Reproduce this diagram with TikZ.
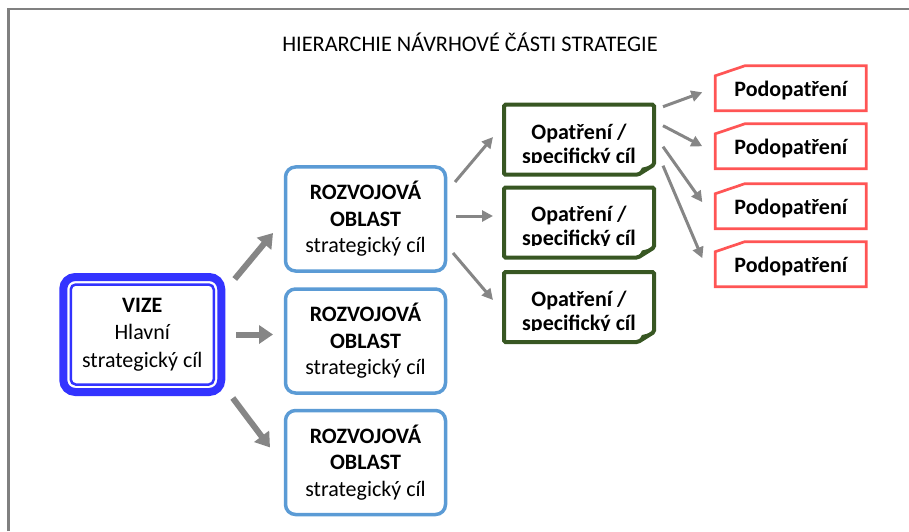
\documentclass[tikz,border=0pt]{standalone}
\usepackage{fontspec}
\setmainfont{Carlito}
\usetikzlibrary{arrows.meta}
\definecolor{ramecek}{RGB}{128,128,128}
\definecolor{sipka}{RGB}{134,134,134}
\definecolor{modra}{RGB}{51,51,255}
\definecolor{svetlemodra}{RGB}{91,155,213}
\definecolor{zelena}{RGB}{56,87,35}
\definecolor{cervena}{RGB}{255,85,85}
\tikzset{
	pismo/.style={font=\fontsize{22}{26.5}\selectfont},
	vize/.style={font=\fontsize{22}{27.5}\selectfont, draw=modra, line width=8pt, rounded corners=12pt, minimum width=158pt, minimum height=115pt, inner sep=0pt, outer sep=0pt, align=center},
	oblast/.style={pismo, draw=svetlemodra, line width=3.5pt, rounded corners=10pt, minimum width=160pt, minimum height=104pt, inner sep=0pt, outer sep=0pt, align=center},
	opatreni/.style={minimum width=150pt, minimum height=70pt, inner sep=0pt, outer sep=0pt},
	opatrenitext/.style={font=\fontsize{22}{24}\selectfont\bfseries, align=center, inner sep=0pt},
	podopatreni/.style={font=\fontsize{22}{26.5}\selectfont\bfseries, minimum width=151pt, minimum height=45pt, inner sep=0pt, outer sep=0pt, text height=18pt, text depth=1pt},
	velka/.style={sipka, line width=6pt, -{Triangle[length=14pt,width=18pt]}},
	mala/.style={sipka, line width=3pt, -{Triangle[length=11pt,width=11pt]}},
}
\begin{document}
\begin{tikzpicture}[x=1pt,y=1pt]
	\useasboundingbox (0,0) rectangle (909,531);
	\draw [ramecek, line width=2.7pt] (8.7,0) -- (8.7,522) -- (909,522);
	\node [font=\fontsize{22.3}{26.5}\selectfont, anchor=base] (nadpis) at (470,479) {HIERARCHIE NÁVRHOVÉ ČÁSTI STRATEGIE};

	\node [vize] (vize) at (142.25,196.5) {\textbf{VIZE}\\Hlavní\\strategický cíl};
	\draw [modra, line width=2.5pt, rounded corners=5pt] ([shift={(7.5,-7.5)}]vize.north west) rectangle ([shift={(-7.5,7.5)}]vize.south east);

	\foreach \i/\y in {1/312,2/190,3/68.5}
		\node [oblast] (roz\i) at (365.5,\y) {\textbf{ROZVOJOVÁ}\\\textbf{OBLAST}\\strategický cíl};

	\draw [velka] ([shift={(13.5,-2)}]vize.north east) -- ([shift={(-12.5,38)}]roz1.south west);
	\draw [velka] ([xshift=15pt]vize.east) -- ([xshift=-12.5pt]vize.east -| roz2.west);
	\draw [velka] ([shift={(11.5,-6)}]vize.south east) -- ([shift={(-15.5,-37)}]roz3.north west);

	\foreach \i/\y in {1/391.3,2/308.5,3/224}{%
		\node [opatreni] (op\i) at (579,\y) {};
		\draw [zelena, line width=4pt, rounded corners=1.5pt] (op\i.north west) -- (op\i.north east) -- ([yshift=10pt]op\i.south east) -- ([xshift=-16pt]op\i.south east) -- (op\i.south west) -- cycle;
		\fill [zelena] ([xshift=-16pt]op\i.south east) -- ([yshift=10pt]op\i.south east) -- ([shift={(-12,7)}]op\i.south east) -- cycle;
		\begin{scope}
			\clip ([shift={(2,12)}]op\i.south west) rectangle ([shift={(-2,-2)}]op\i.north east);
			\node [opatrenitext] (opt\i) at ([yshift=-5.5pt]op\i.center) {Opatření /\\specifický cíl};
		\end{scope}
		}

	\draw [mala] ([shift={(9.5,37)}]roz1.east) -- ([shift={(-11,2.7)}]op1.west);
	\draw [mala] ([shift={(10.5,3)}]roz1.east) -- ([shift={(-11,3)}]roz1.east -| op2.west);
	\draw [mala] ([shift={(7.5,-34)}]roz1.east) -- ([shift={(-11,7)}]op3.west);

	\foreach \i/\y in {1/442.7,2/384.7,3/324.8,4/266.8}{%
		\node [podopatreni] (pod\i) at (790.8,\y) {Podopatření};
		\draw [cervena, line width=2.7pt] ([yshift=-10pt]pod\i.north west) -- ([xshift=29.5pt]pod\i.north west) -- (pod\i.north east) -- (pod\i.south east) -- (pod\i.south west) -- cycle;
		}

	\foreach \i/\a/\b in {1/33/-4,2/14/0,3/-7/4,4/-26/6}
		\draw [mala] ([shift={(9,\a)}]op1.east) -- ([shift={(-13,\b)}]pod\i.west);
\end{tikzpicture}
\end{document}
